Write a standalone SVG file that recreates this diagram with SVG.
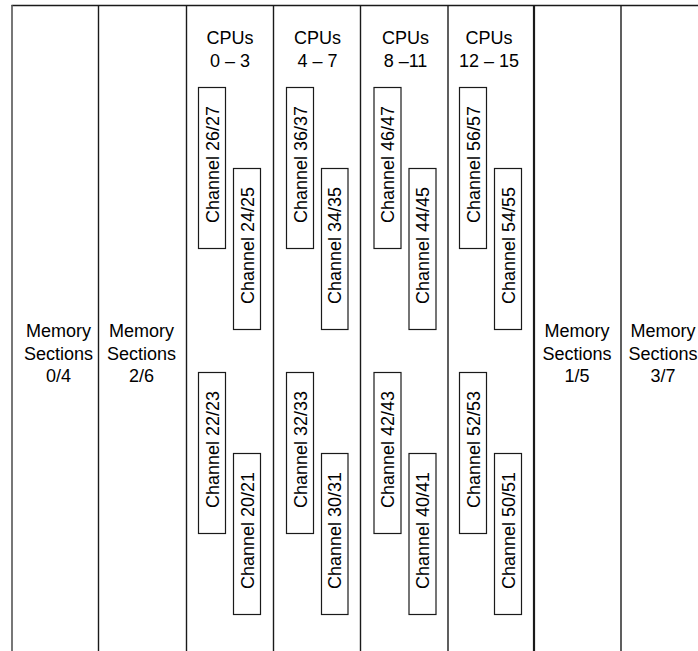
<svg xmlns="http://www.w3.org/2000/svg" width="698" height="651" viewBox="0 0 698 651">
<style>
.ln{stroke:#1a1a1a;stroke-width:1.4;fill:none}
.box{fill:#fff;stroke:#1a1a1a;stroke-width:1.2}
.t{font-family:"Liberation Sans",Arial,sans-serif;font-size:18px;fill:#000;text-anchor:middle}
</style>
<rect width="698" height="651" fill="#fff"/>
<g id="frame">
<line class="ln" x1="11.5" y1="5.5" x2="698" y2="5.5"/>
<line class="ln" x1="12" y1="5" x2="12" y2="651" style="stroke:#555;stroke-width:1.6"/>
<line class="ln" x1="98.5" y1="5" x2="98.5" y2="651"/>
<line class="ln" x1="186.5" y1="5" x2="186.5" y2="651"/>
<line class="ln" x1="273.5" y1="5" x2="273.5" y2="651"/>
<line class="ln" x1="360.5" y1="5" x2="360.5" y2="651"/>
<line class="ln" x1="448" y1="5" x2="448" y2="651"/>
<line class="ln" x1="534" y1="5" x2="534" y2="651" style="stroke-width:2.2"/>
<line class="ln" x1="621" y1="5" x2="621" y2="651"/>
</g>
<g id="mem04"><text class="t" x="58.5" y="337">Memory</text><text class="t" x="58.5" y="359.5">Sections</text><text class="t" x="58.5" y="382">0/4</text></g>
<g id="mem26"><text class="t" x="141.5" y="337">Memory</text><text class="t" x="141.5" y="359.5">Sections</text><text class="t" x="141.5" y="382">2/6</text></g>
<g id="mem15"><text class="t" x="577" y="337">Memory</text><text class="t" x="577" y="359.5">Sections</text><text class="t" x="577" y="382">1/5</text></g>
<g id="mem37"><text class="t" x="663" y="337">Memory</text><text class="t" x="663" y="359.5">Sections</text><text class="t" x="663" y="382">3/7</text></g>
<g id="cpu0"><text class="t" x="230" y="44">CPUs</text><text class="t" x="230" y="66.5">0 – 3</text></g>
<g id="cpu4"><text class="t" x="317.5" y="44">CPUs</text><text class="t" x="317.5" y="66.5">4 – 7</text></g>
<g id="cpu8"><text class="t" x="405.5" y="44">CPUs</text><text class="t" x="405.5" y="66.5">8 –11</text></g>
<g id="cpu12"><text class="t" x="489" y="44">CPUs</text><text class="t" x="489" y="66.5">12 – 15</text></g>
<g id="ch2627"><rect class="box" x="198.5" y="87.5" width="27" height="161"/><text class="t" transform="translate(218.5,164.5) rotate(-90)">Channel 26/27</text></g>
<g id="ch2425"><rect class="box" x="233.5" y="168.5" width="27" height="161"/><text class="t" transform="translate(253.5,245.5) rotate(-90)">Channel 24/25</text></g>
<g id="ch2223"><rect class="box" x="198.5" y="372.5" width="27" height="161"/><text class="t" transform="translate(218.5,449.5) rotate(-90)">Channel 22/23</text></g>
<g id="ch2021"><rect class="box" x="233.5" y="453.5" width="27" height="161"/><text class="t" transform="translate(253.5,530.5) rotate(-90)">Channel 20/21</text></g>
<g id="ch3637"><rect class="box" x="286.5" y="87.5" width="27" height="161"/><text class="t" transform="translate(306.5,164.5) rotate(-90)">Channel 36/37</text></g>
<g id="ch3435"><rect class="box" x="321.5" y="168.5" width="26.5" height="161"/><text class="t" transform="translate(341.3,245.5) rotate(-90)">Channel 34/35</text></g>
<g id="ch3233"><rect class="box" x="286.5" y="372.5" width="27" height="161"/><text class="t" transform="translate(306.5,449.5) rotate(-90)">Channel 32/33</text></g>
<g id="ch3031"><rect class="box" x="321.5" y="453.5" width="26.5" height="161"/><text class="t" transform="translate(341.3,530.5) rotate(-90)">Channel 30/31</text></g>
<g id="ch4647"><rect class="box" x="374" y="87.5" width="27" height="161"/><text class="t" transform="translate(394,164.5) rotate(-90)">Channel 46/47</text></g>
<g id="ch4445"><rect class="box" x="409" y="168.5" width="27" height="161"/><text class="t" transform="translate(429,245.5) rotate(-90)">Channel 44/45</text></g>
<g id="ch4243"><rect class="box" x="374" y="372.5" width="27" height="161"/><text class="t" transform="translate(394,449.5) rotate(-90)">Channel 42/43</text></g>
<g id="ch4041"><rect class="box" x="409" y="453.5" width="27" height="161"/><text class="t" transform="translate(429,530.5) rotate(-90)">Channel 40/41</text></g>
<g id="ch5657"><rect class="box" x="459.5" y="87.5" width="27" height="161"/><text class="t" transform="translate(479.5,164.5) rotate(-90)">Channel 56/57</text></g>
<g id="ch5455"><rect class="box" x="494.5" y="168.5" width="27" height="161"/><text class="t" transform="translate(514.5,245.5) rotate(-90)">Channel 54/55</text></g>
<g id="ch5253"><rect class="box" x="459.5" y="372.5" width="27" height="161"/><text class="t" transform="translate(479.5,449.5) rotate(-90)">Channel 52/53</text></g>
<g id="ch5051"><rect class="box" x="494.5" y="453.5" width="27" height="161"/><text class="t" transform="translate(514.5,530.5) rotate(-90)">Channel 50/51</text></g>
<g id="connectors"></g>
</svg>
